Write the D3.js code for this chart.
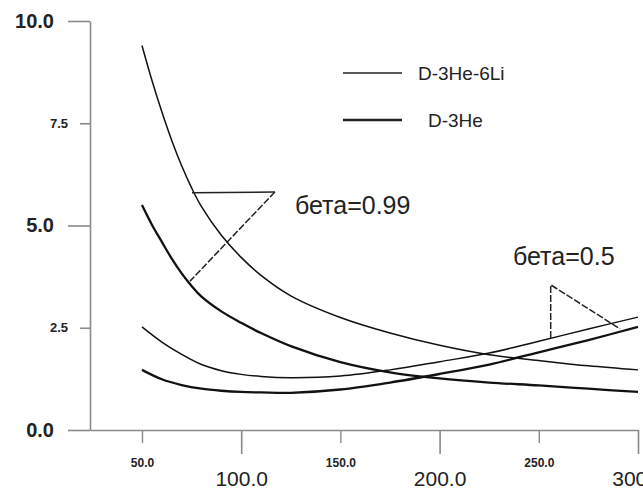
<!DOCTYPE html>
<html>
<head>
<meta charset="utf-8">
<script src="https://cdn.jsdelivr.net/npm/d3@7"></script>
<style>
  html, body { margin: 0; padding: 0; background: #fff; }
  svg { display: block; font-family: "Liberation Sans", Arial, sans-serif; }
</style>
</head>
<body>
<svg id="chart" width="643" height="490"></svg>
<script>
// ---- data ----
const seriesNames = ["D-3He-6Li", "D-3He"];
const xBeta099 = [50, 55, 60, 65, 70, 75, 80, 90, 100, 110, 125, 150, 175, 200, 225, 250, 275, 300];
const yLiBeta099 = [9.4, 8.55, 7.78, 7.08, 6.46, 5.92, 5.46, 4.76, 4.22, 3.78, 3.28, 2.75, 2.37, 2.07, 1.84, 1.70, 1.57, 1.47];
const yHeBeta099 = [5.5, 5.02, 4.6, 4.19, 3.83, 3.52, 3.26, 2.9, 2.62, 2.37, 2.05, 1.66, 1.41, 1.26, 1.16, 1.09, 1.01, 0.93];
const xBeta05 = [50, 60, 70, 80, 90, 100, 110, 125, 150, 175, 200, 225, 250, 275, 300];
const yLiBeta05 = [2.52, 2.15, 1.85, 1.6, 1.45, 1.36, 1.31, 1.28, 1.32, 1.47, 1.67, 1.88, 2.17, 2.47, 2.76];
const yHeBeta05 = [1.47, 1.24, 1.1, 1.01, 0.96, 0.93, 0.92, 0.91, 0.99, 1.16, 1.37, 1.6, 1.9, 2.2, 2.52];
const yTicksMajor = [0, 5, 10];
const yTicksMinor = [2.5, 7.5];
const xTicksMajor = [100, 200, 300];
const xTicksMinor = [50, 150, 250];
const annotationLabels = ["бета=0.99", "бета=0.5"];
// bracket vertices in data units (x, y)
const bracketBeta099 = [[75.2, 5.8], [117, 5.82], [74.2, 3.64]];
const bracketBeta05 = [[256, 2.25], [256, 3.55], [291, 2.47]];
const labelAnchorBeta099 = [127.1, 5.28];
const labelAnchorBeta05 = [237, 4.03];

// ---- drawing ----
const svg = d3.select("#chart");
const x = d3.scaleLinear().domain([23.8, 300]).range([90, 638]);
const y = d3.scaleLinear().domain([0, 10]).range([430, 21]);
const axisColor = "#8a8a8a";
const textColor = "#222";

// Y axis
const gyMaj = svg.append("g").attr("transform", `translate(${x.range()[0]},0)`)
  .call(d3.axisLeft(y).tickValues(yTicksMajor).tickFormat(d3.format(".1f")).tickSize(22).tickPadding(14).tickSizeOuter(0));
gyMaj.select(".domain").attr("stroke", axisColor).attr("stroke-width", 1.6);
gyMaj.selectAll(".tick line").attr("stroke", axisColor).attr("stroke-width", 1.6);
gyMaj.selectAll(".tick text").attr("fill", textColor).style("font-size", "20px").style("font-weight", "bold");

const gyMin = svg.append("g").attr("transform", `translate(${x.range()[0]},0)`)
  .call(d3.axisLeft(y).tickValues(yTicksMinor).tickFormat(d3.format(".1f")).tickSize(10).tickPadding(12).tickSizeOuter(0));
gyMin.select(".domain").remove();
gyMin.selectAll(".tick line").attr("stroke", axisColor).attr("stroke-width", 1.6);
gyMin.selectAll(".tick text").attr("fill", textColor).style("font-size", "13px").style("font-weight", "bold");

// X axis
const gxMaj = svg.append("g").attr("transform", `translate(0,${y(0)})`)
  .call(d3.axisBottom(x).tickValues(xTicksMajor).tickFormat(d3.format(".1f")).tickSize(24).tickPadding(17).tickSizeOuter(0));
gxMaj.select(".domain").attr("stroke", axisColor).attr("stroke-width", 1.6);
gxMaj.selectAll(".tick line").attr("stroke", axisColor).attr("stroke-width", 1.6);
gxMaj.selectAll(".tick text").attr("fill", textColor).style("font-size", "21px");

const gxMin = svg.append("g").attr("transform", `translate(0,${y(0)})`)
  .call(d3.axisBottom(x).tickValues(xTicksMinor).tickFormat(d3.format(".1f")).tickSize(13).tickPadding(15).tickSizeOuter(0));
gxMin.select(".domain").remove();
gxMin.selectAll(".tick line").attr("stroke", axisColor).attr("stroke-width", 1.4);
gxMin.selectAll(".tick text").attr("fill", textColor).style("font-size", "12px").style("font-weight", "bold");

// Curves
const line = d3.line().x(d => x(d[0])).y(d => y(d[1])).curve(d3.curveCatmullRom.alpha(0.5));
const curves = [
  { xs: xBeta099, ys: yLiBeta099, w: 1.5 },
  { xs: xBeta099, ys: yHeBeta099, w: 2.3 },
  { xs: xBeta05, ys: yLiBeta05, w: 1.5 },
  { xs: xBeta05, ys: yHeBeta05, w: 2.3 }
];
curves.forEach(c => {
  svg.append("path")
    .datum(d3.zip(c.xs, c.ys))
    .attr("d", line)
    .attr("fill", "none")
    .attr("stroke", "#111")
    .attr("stroke-width", c.w);
});

// Brackets
const bl = d3.line().x(d => x(d[0])).y(d => y(d[1]));
svg.append("path").datum(bracketBeta099.slice(0, 2)).attr("d", bl)
  .attr("fill", "none").attr("stroke", "#222").attr("stroke-width", 1.5);
svg.append("path").datum(bracketBeta099.slice(1)).attr("d", bl)
  .attr("fill", "none").attr("stroke", "#222").attr("stroke-width", 1.5).attr("stroke-dasharray", "7,2");
svg.append("path").datum(bracketBeta05).attr("d", bl)
  .attr("fill", "none").attr("stroke", "#222").attr("stroke-width", 1.5).attr("stroke-dasharray", "7,2");

// Annotation labels
svg.append("text").attr("x", x(labelAnchorBeta099[0])).attr("y", y(labelAnchorBeta099[1]))
  .attr("fill", textColor).style("font-size", "25px").text(annotationLabels[0]);
svg.append("text").attr("x", x(labelAnchorBeta05[0])).attr("y", y(labelAnchorBeta05[1]))
  .attr("fill", textColor).style("font-size", "25px").text(annotationLabels[1]);

// Legend
const legendItems = [
  { name: seriesNames[0], w: 1.3, ly: 73, tx: 418 },
  { name: seriesNames[1], w: 2.6, ly: 120, tx: 428 }
];
legendItems.forEach(it => {
  svg.append("line").attr("x1", 343).attr("x2", 402).attr("y1", it.ly).attr("y2", it.ly)
    .attr("stroke", "#222").attr("stroke-width", it.w);
  svg.append("text").attr("x", it.tx).attr("y", it.ly).attr("dy", "0.36em")
    .attr("fill", textColor).style("font-size", "19px").text(it.name);
});
</script>
</body>
</html>
